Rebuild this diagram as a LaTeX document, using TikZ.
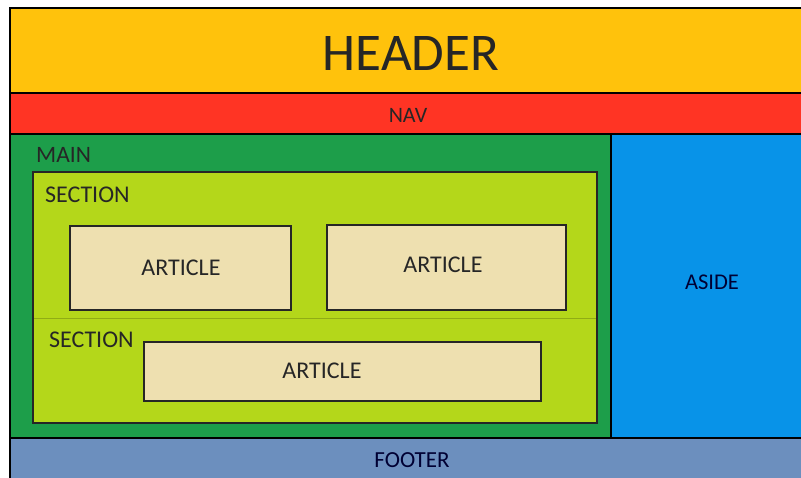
\documentclass[tikz,border=0pt]{standalone}
\usepackage{fontspec}
\setmainfont{Carlito}
\definecolor{headerc}{HTML}{FFC20C}
\definecolor{navc}{HTML}{FF3424}
\definecolor{mainc}{HTML}{1D9E4A}
\definecolor{sectionc}{HTML}{B4D71A}
\definecolor{articlec}{HTML}{EEE0B0}
\definecolor{asidec}{HTML}{0893E8}
\definecolor{footerc}{HTML}{6C8FBE}
\begin{document}
\begin{tikzpicture}[x=1pt,y=-1pt,
        region/.style = {draw=black, line width=2.6pt},
        artbox/.style = {draw=black!85, line width=2pt, fill=articlec},
        lbl/.style = {inner sep=0pt, text=black!85,
            font=\fontsize{24}{24}\selectfont}]
    \useasboundingbox (0,0) rectangle (801,477);
    \fill[white] (0,0) rectangle (801,477);
    % page regions
    \draw[region, fill=headerc] (10,8) rectangle (806,93);
    \draw[region, fill=navc] (10,93) rectangle (806,134);
    \draw[region, fill=mainc] (10,134) rectangle (611,438);
    \draw[region, fill=asidec] (611,134) rectangle (806,438);
    \draw[region, fill=footerc] (10,438) rectangle (806,482);
    % sections and articles
    \draw[draw=black!85, line width=2.2pt, fill=sectionc] (33,172) rectangle (597,423);
    \draw[sectionc!80!black, line width=0.8pt] (34,318) -- (596,318);
    \draw[artbox] (70,226) rectangle (291,310);
    \draw[artbox] (327,225) rectangle (566,310);
    \draw[artbox] (144,342) rectangle (541,401);
    % labels
    \node[lbl, font=\fontsize{53}{53}\selectfont] (header) at (411,53) {HEADER};
    \node[lbl, font=\fontsize{22}{22}\selectfont] (nav) at (408,115) {NAV};
    \node[lbl, anchor=west, font=\fontsize{23.5}{23.5}\selectfont] (main) at (36,155) {MAIN};
    \node[lbl, anchor=west] (section1) at (45,195) {SECTION};
    \node[lbl, anchor=west] (section2) at (49,340) {SECTION};
    \node[lbl] (article1) at (181,268) {ARTICLE};
    \node[lbl] (article2) at (443,265) {ARTICLE};
    \node[lbl] (article3) at (322,371) {ARTICLE};
    \node[lbl, text=black!80!blue, font=\fontsize{22.5}{22.5}\selectfont] (aside) at (712,282) {ASIDE};
    \node[lbl, text=black!80!blue, font=\fontsize{23}{23}\selectfont] (footer) at (412,460) {FOOTER};
\end{tikzpicture}
\end{document}
